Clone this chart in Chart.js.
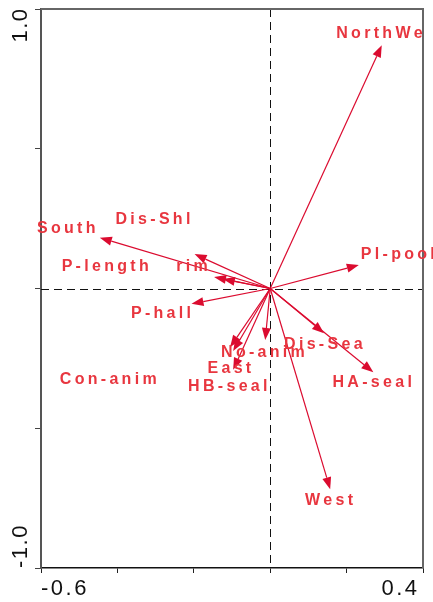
<!DOCTYPE html>
<html>
<head>
<meta charset="utf-8">
<script src="https://cdn.jsdelivr.net/npm/chart.js@4/dist/chart.umd.min.js"></script>
<style>
  html, body { margin: 0; padding: 0; background: #fff; }
  #wrap { width: 433px; height: 602px; }
</style>
</head>
<body>
<div id="wrap"><canvas id="chart"></canvas></div>
<script>
// arrow tips (biplot scores) and where each label sits
const names  = ['NorthWe', 'Pl-pool', 'South', 'Dis-Shl', 'rim', 'P-length', 'P-hall', 'Dis-Sea', 'HA-seal', 'West', 'No-anim', 'East', 'HB-seal', 'Con-anim'];
const arrowX = [0.292, 0.232, -0.446, -0.198, -0.147, -0.124, -0.206, 0.141, 0.270, 0.157, -0.013, -0.097, -0.105, -0.097];
const arrowY = [0.870, 0.084, 0.182, 0.123, 0.041, 0.034, -0.055, -0.160, -0.300, -0.718, -0.184, -0.291, -0.210, -0.224];
const labelX = [0.286, 0.334, -0.534, -0.307, -0.205, -0.432, -0.286, 0.139, 0.267, 0.154, -0.019, -0.107, -0.111, -0.424];
const labelY = [0.913, 0.120, 0.216, 0.245, 0.080, 0.080, -0.091, -0.202, -0.338, -0.760, -0.231, -0.288, -0.352, -0.327];

const xTickValues = [-0.6, 0.4];
const xTickLabels = ['-0.6', '0.4'];
const yTickValues = [1.0, -1.0];
const yTickLabels = ['1.0', '-1.0'];

const arrowColor = '#db0b2f';
const labelColor = '#e8363f';

// canvas letter spacing done by hand so it works everywhere
function spacedWidth(ctx, text, gap) {
  let w = 0;
  for (const ch of text) w += ctx.measureText(ch).width + gap;
  return w - gap;
}
function drawSpaced(ctx, text, x, y, gap, align) {
  const w = spacedWidth(ctx, text, gap);
  let cx = align === 'center' ? x - w / 2 : align === 'right' ? x - w : x;
  ctx.textAlign = 'left';
  for (const ch of text) {
    ctx.fillText(ch, cx, y);
    cx += ctx.measureText(ch).width + gap;
  }
}

const biplot = {
  id: 'biplot',
  beforeDatasetsDraw(chart) {
    const { ctx, chartArea: a, scales: { x, y } } = chart;
    const x0 = x.getPixelForValue(0);
    const y0 = y.getPixelForValue(0);
    ctx.save();
    ctx.strokeStyle = '#111';
    ctx.lineWidth = 1;
    ctx.setLineDash([8, 5]);
    ctx.beginPath();
    ctx.moveTo(Math.round(x0) + 0.5, a.top);
    ctx.lineTo(Math.round(x0) + 0.5, a.bottom);
    ctx.moveTo(a.left, Math.round(y0) + 0.5);
    ctx.lineTo(a.right, Math.round(y0) + 0.5);
    ctx.stroke();
    ctx.setLineDash([]);
    // top and right edge of the box
    ctx.strokeStyle = '#666';
    ctx.lineWidth = 2;
    ctx.beginPath();
    ctx.moveTo(a.left, a.top);
    ctx.lineTo(a.right, a.top);
    ctx.lineTo(a.right, a.bottom);
    ctx.stroke();
    ctx.restore();
  },
  afterDatasetsDraw(chart) {
    const { ctx, scales: { x, y } } = chart;
    const ox = x.getPixelForValue(0);
    const oy = y.getPixelForValue(0);
    ctx.save();
    ctx.strokeStyle = arrowColor;
    ctx.fillStyle = arrowColor;
    ctx.lineWidth = 1.2;
    for (let i = 0; i < names.length; i++) {
      const tx = x.getPixelForValue(arrowX[i]);
      const ty = y.getPixelForValue(arrowY[i]);
      const ang = Math.atan2(ty - oy, tx - ox);
      const len = 12, half = 4.5;
      const bx = tx - len * Math.cos(ang);
      const by = ty - len * Math.sin(ang);
      ctx.beginPath();
      ctx.moveTo(ox, oy);
      ctx.lineTo(bx, by);
      ctx.stroke();
      ctx.beginPath();
      ctx.moveTo(tx, ty);
      ctx.lineTo(bx + half * Math.sin(ang), by - half * Math.cos(ang));
      ctx.lineTo(bx - half * Math.sin(ang), by + half * Math.cos(ang));
      ctx.closePath();
      ctx.fill();
    }

    ctx.fillStyle = labelColor;
    ctx.font = 'bold 16px "Liberation Sans", Arial, sans-serif';
    ctx.textBaseline = 'middle';
    for (let i = 0; i < names.length; i++) {
      drawSpaced(ctx, names[i], x.getPixelForValue(labelX[i]), y.getPixelForValue(labelY[i]), 3.3, 'center');
    }

    // axis numbers
    ctx.fillStyle = '#111';
    ctx.font = '22px "Liberation Sans", Arial, sans-serif';
    ctx.textBaseline = 'alphabetic';
    const base = chart.chartArea.bottom + 27;
    drawSpaced(ctx, xTickLabels[0], x.getPixelForValue(xTickValues[0]), base, 2.5, 'left');
    drawSpaced(ctx, xTickLabels[1], x.getPixelForValue(xTickValues[1]) - 6, base, 2.5, 'right');

    const colX = 27;
    ctx.save();
    ctx.translate(colX, y.getPixelForValue(yTickValues[0]));
    ctx.rotate(-Math.PI / 2);
    drawSpaced(ctx, yTickLabels[0], 0, 0, 1.5, 'right');
    ctx.restore();
    ctx.save();
    ctx.translate(colX, y.getPixelForValue(yTickValues[1]));
    ctx.rotate(-Math.PI / 2);
    drawSpaced(ctx, yTickLabels[1], 0, 0, 1.5, 'left');
    ctx.restore();
    ctx.restore();
  }
};

new Chart(document.getElementById('chart'), {
  type: 'scatter',
  data: {
    datasets: [{
      data: arrowX.map((v, i) => ({ x: v, y: arrowY[i] })),
      pointRadius: 0,
      showLine: false
    }]
  },
  options: {
    responsive: true,
    maintainAspectRatio: false,
    animation: false,
    layout: { padding: { left: 35, right: 10, top: 9, bottom: 29 } },
    plugins: { legend: { display: false }, tooltip: { enabled: false } },
    scales: {
      x: {
        min: -0.6, max: 0.4,
        ticks: { stepSize: 0.2, display: false },
        grid: { drawOnChartArea: false, drawTicks: true, tickLength: 5, color: '#222' },
        border: { color: '#111', width: 1.5 }
      },
      y: {
        min: -1, max: 1,
        ticks: { stepSize: 0.5, display: false },
        grid: { drawOnChartArea: false, drawTicks: true, tickLength: 6, color: '#444' },
        border: { color: '#555', width: 2 }
      }
    }
  },
  plugins: [biplot]
});
</script>
</body>
</html>
